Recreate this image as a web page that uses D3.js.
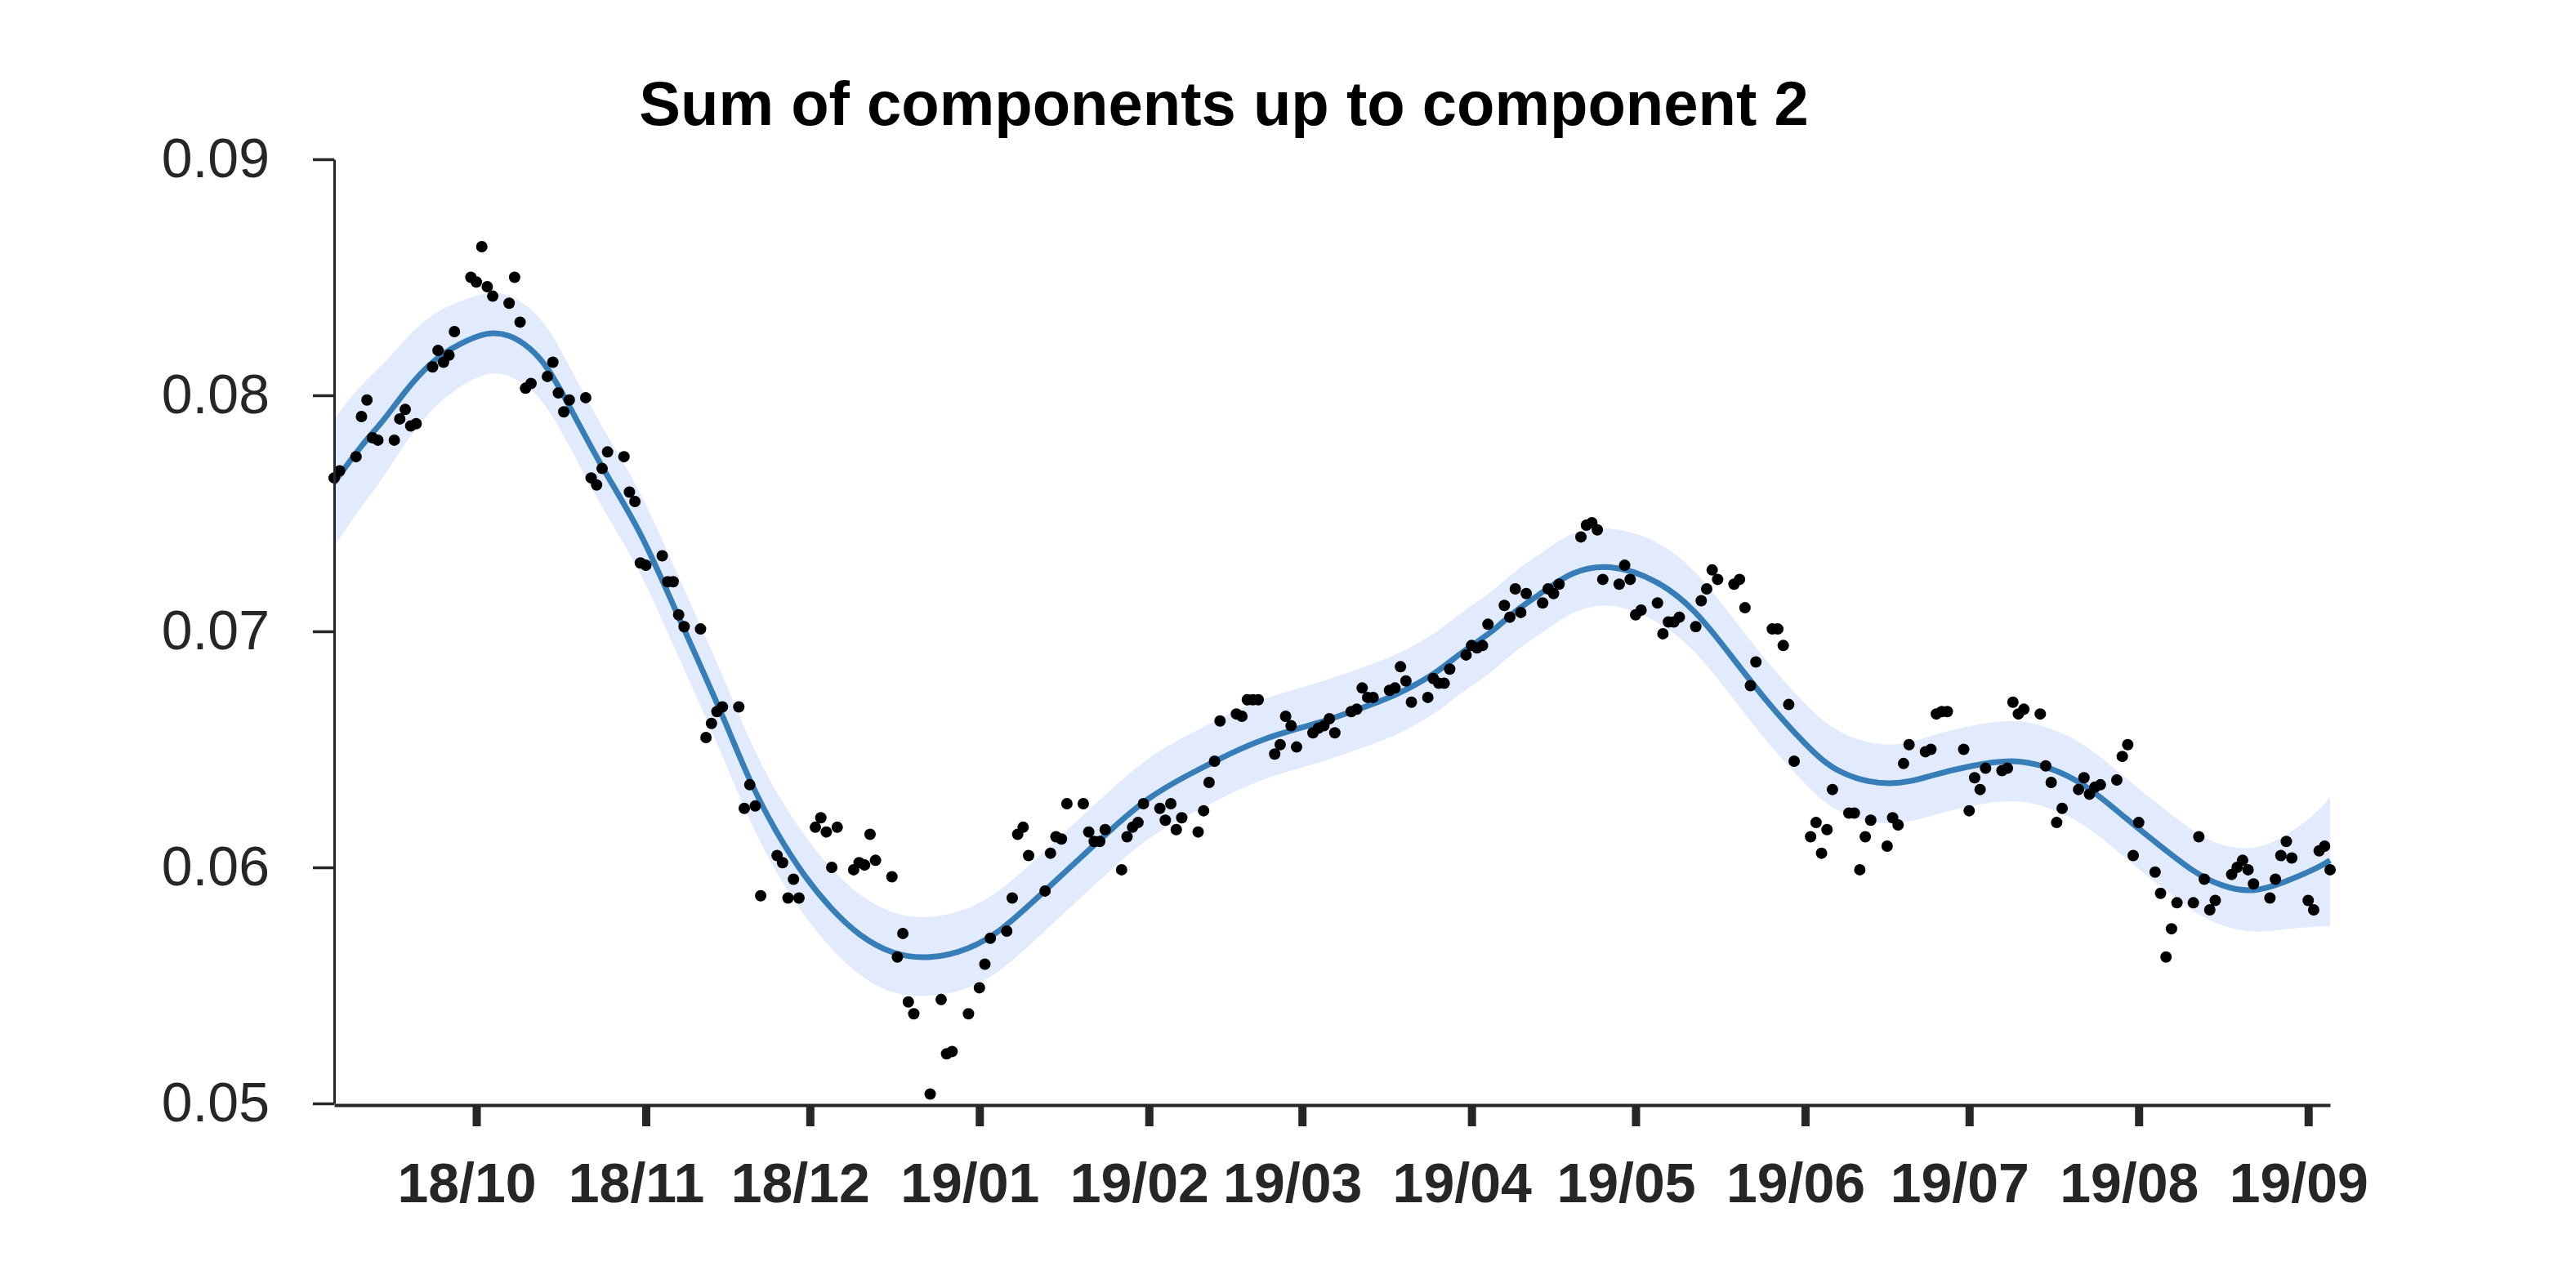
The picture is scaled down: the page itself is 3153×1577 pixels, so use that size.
<!DOCTYPE html>
<html>
<head>
<meta charset="utf-8">
<script src="https://cdn.jsdelivr.net/npm/d3@7"></script>
<style>
  html, body { margin: 0; padding: 0; background: #ffffff; }
  svg { display: block; }
</style>
</head>
<body>
<svg id="chart" width="3153" height="1577"></svg>
<script>
// ---------------- data ----------------
const chartTitle = "Sum of components up to component 2";

const xDomain = ["2018-09-05", "2019-09-05"];
const yTicks = [0.05, 0.06, 0.07, 0.08, 0.09];
const xTickDates = ["2018-10-01","2018-11-01","2018-12-01","2019-01-01","2019-02-01","2019-03-01",
                    "2019-04-01","2019-05-01","2019-06-01","2019-07-01","2019-08-01","2019-09-01"];
const xTickLabels = ["18/10","18/11","18/12","19/01","19/02","19/03",
                     "19/04","19/05","19/06","19/07","19/08","19/09"];

// observed points [date, value]
const observations = [
  ["2018-09-05",0.0765],["2018-09-06",0.0768],["2018-09-09",0.0774],["2018-09-10",0.0791],["2018-09-11",0.0798],
  ["2018-09-12",0.0782],["2018-09-13",0.0781],["2018-09-16",0.0781],["2018-09-17",0.0790],["2018-09-18",0.0794],
  ["2018-09-19",0.0787],["2018-09-20",0.0788],["2018-09-23",0.0812],["2018-09-24",0.0819],["2018-09-25",0.0814],
  ["2018-09-26",0.0817],["2018-09-27",0.0827],["2018-09-30",0.0850],
  ["2018-10-01",0.0848],["2018-10-02",0.0863],["2018-10-03",0.0846],["2018-10-04",0.0842],["2018-10-07",0.0839],
  ["2018-10-08",0.0850],["2018-10-09",0.0831],["2018-10-10",0.0803],["2018-10-11",0.0805],["2018-10-14",0.0808],
  ["2018-10-15",0.0814],["2018-10-16",0.0801],["2018-10-17",0.0793],["2018-10-18",0.0798],["2018-10-21",0.0799],
  ["2018-10-22",0.0765],["2018-10-23",0.0762],["2018-10-24",0.0769],["2018-10-25",0.0776],["2018-10-28",0.0774],
  ["2018-10-29",0.0759],["2018-10-30",0.0755],["2018-10-31",0.0729],
  ["2018-11-01",0.0728],["2018-11-04",0.0732],["2018-11-05",0.0721],["2018-11-06",0.0721],["2018-11-07",0.0707],
  ["2018-11-08",0.0702],["2018-11-11",0.0701],["2018-11-12",0.0655],["2018-11-13",0.0661],["2018-11-14",0.0666],
  ["2018-11-15",0.0668],["2018-11-18",0.0668],["2018-11-19",0.0625],["2018-11-20",0.0635],["2018-11-21",0.0626],
  ["2018-11-22",0.0588],["2018-11-25",0.0605],["2018-11-26",0.0602],["2018-11-27",0.0587],["2018-11-28",0.0595],
  ["2018-11-29",0.0587],
  ["2018-12-02",0.0617],["2018-12-03",0.0621],["2018-12-04",0.0615],["2018-12-05",0.0600],["2018-12-06",0.0617],
  ["2018-12-09",0.0599],["2018-12-10",0.0602],["2018-12-11",0.0601],["2018-12-12",0.0614],["2018-12-13",0.0603],
  ["2018-12-16",0.0596],["2018-12-17",0.0562],["2018-12-18",0.0572],["2018-12-19",0.0543],["2018-12-20",0.0538],
  ["2018-12-23",0.0504],["2018-12-25",0.0544],["2018-12-26",0.0521],["2018-12-27",0.0522],["2018-12-30",0.0538],
  ["2019-01-01",0.0549],["2019-01-02",0.0559],["2019-01-03",0.0570],["2019-01-06",0.0573],["2019-01-07",0.0587],
  ["2019-01-08",0.0614],["2019-01-09",0.0617],["2019-01-10",0.0605],["2019-01-13",0.0590],["2019-01-14",0.0606],
  ["2019-01-15",0.0613],["2019-01-16",0.0612],["2019-01-17",0.0627],["2019-01-20",0.0627],["2019-01-21",0.0615],
  ["2019-01-22",0.0611],["2019-01-23",0.0611],["2019-01-24",0.0616],["2019-01-27",0.0599],["2019-01-28",0.0613],
  ["2019-01-29",0.0617],["2019-01-30",0.0619],["2019-01-31",0.0627],
  ["2019-02-03",0.0625],["2019-02-04",0.0620],["2019-02-05",0.0627],["2019-02-06",0.0616],["2019-02-07",0.0621],
  ["2019-02-10",0.0615],["2019-02-11",0.0624],["2019-02-12",0.0636],["2019-02-13",0.0645],["2019-02-14",0.0662],
  ["2019-02-17",0.0665],["2019-02-18",0.0664],["2019-02-19",0.0671],["2019-02-20",0.0671],["2019-02-21",0.0671],
  ["2019-02-24",0.0648],["2019-02-25",0.0652],["2019-02-26",0.0664],["2019-02-27",0.0660],["2019-02-28",0.0651],
  ["2019-03-03",0.0657],["2019-03-04",0.0659],["2019-03-05",0.0660],["2019-03-06",0.0663],["2019-03-07",0.0657],
  ["2019-03-10",0.0666],["2019-03-11",0.0667],["2019-03-12",0.0676],["2019-03-13",0.0672],["2019-03-14",0.0672],
  ["2019-03-17",0.0675],["2019-03-18",0.0676],["2019-03-19",0.0685],["2019-03-20",0.0679],["2019-03-21",0.0670],
  ["2019-03-24",0.0672],["2019-03-25",0.0680],["2019-03-26",0.0678],["2019-03-27",0.0678],["2019-03-28",0.0684],
  ["2019-03-31",0.0690],
  ["2019-04-01",0.0694],["2019-04-02",0.0693],["2019-04-03",0.0694],["2019-04-04",0.0703],["2019-04-07",0.0711],
  ["2019-04-08",0.0706],["2019-04-09",0.0718],["2019-04-10",0.0708],["2019-04-11",0.0716],["2019-04-14",0.0712],
  ["2019-04-15",0.0718],["2019-04-16",0.0716],["2019-04-17",0.0720],["2019-04-21",0.0740],["2019-04-22",0.0745],
  ["2019-04-23",0.0746],["2019-04-24",0.0743],["2019-04-25",0.0722],["2019-04-28",0.0720],["2019-04-29",0.0728],
  ["2019-04-30",0.0722],
  ["2019-05-01",0.0707],["2019-05-02",0.0709],["2019-05-05",0.0712],["2019-05-06",0.0699],["2019-05-07",0.0704],
  ["2019-05-08",0.0704],["2019-05-09",0.0706],["2019-05-12",0.0702],["2019-05-13",0.0713],["2019-05-14",0.0718],
  ["2019-05-15",0.0726],["2019-05-16",0.0722],["2019-05-19",0.0720],["2019-05-20",0.0722],["2019-05-21",0.0710],
  ["2019-05-22",0.0677],["2019-05-23",0.0687],["2019-05-26",0.0701],["2019-05-27",0.0701],["2019-05-28",0.0694],
  ["2019-05-29",0.0669],["2019-05-30",0.0645],
  ["2019-06-02",0.0613],["2019-06-03",0.0619],["2019-06-04",0.0606],["2019-06-05",0.0616],["2019-06-06",0.0633],
  ["2019-06-09",0.0623],["2019-06-10",0.0623],["2019-06-11",0.0599],["2019-06-12",0.0613],["2019-06-13",0.0620],
  ["2019-06-16",0.0609],["2019-06-17",0.0621],["2019-06-18",0.0618],["2019-06-19",0.0644],["2019-06-20",0.0652],
  ["2019-06-23",0.0649],["2019-06-24",0.0650],["2019-06-25",0.0665],["2019-06-26",0.0666],["2019-06-27",0.0666],
  ["2019-06-30",0.0650],
  ["2019-07-01",0.0624],["2019-07-02",0.0638],["2019-07-03",0.0633],["2019-07-04",0.0642],["2019-07-07",0.0641],
  ["2019-07-08",0.0642],["2019-07-09",0.0670],["2019-07-10",0.0665],["2019-07-11",0.0667],["2019-07-14",0.0665],
  ["2019-07-15",0.0643],["2019-07-16",0.0636],["2019-07-17",0.0619],["2019-07-18",0.0625],["2019-07-21",0.0633],
  ["2019-07-22",0.0638],["2019-07-23",0.0631],["2019-07-24",0.0634],["2019-07-25",0.0635],["2019-07-28",0.0637],
  ["2019-07-29",0.0647],["2019-07-30",0.0652],["2019-07-31",0.0605],
  ["2019-08-01",0.0619],["2019-08-04",0.0598],["2019-08-05",0.0589],["2019-08-06",0.0562],["2019-08-07",0.0574],
  ["2019-08-08",0.0585],["2019-08-11",0.0585],["2019-08-12",0.0613],["2019-08-13",0.0595],["2019-08-14",0.0582],
  ["2019-08-15",0.0586],["2019-08-18",0.0597],["2019-08-19",0.0600],["2019-08-20",0.0603],["2019-08-21",0.0599],
  ["2019-08-22",0.0593],["2019-08-25",0.0587],["2019-08-26",0.0595],["2019-08-27",0.0605],["2019-08-28",0.0611],
  ["2019-08-29",0.0604],
  ["2019-09-01",0.0586],["2019-09-02",0.0582],["2019-09-03",0.0607],["2019-09-04",0.0609],["2019-09-05",0.0599]
];

// fitted curve (sum of components) and its uncertainty band
const curveDates = ["2018-09-05","2018-09-10","2018-09-14","2018-09-18","2018-09-23","2018-09-28","2018-10-03",
  "2018-10-07","2018-10-11","2018-10-14","2018-10-17","2018-10-24","2018-10-31","2018-11-06","2018-11-15",
  "2018-11-20","2018-11-25","2018-11-30","2018-12-05","2018-12-10","2018-12-16","2018-12-23","2018-12-30",
  "2019-01-05","2019-01-12","2019-01-19","2019-01-25","2019-02-01","2019-02-08","2019-02-13","2019-02-22",
  "2019-03-04","2019-03-10","2019-03-15","2019-03-20","2019-03-26","2019-03-30","2019-04-05","2019-04-09",
  "2019-04-15","2019-04-19","2019-04-26","2019-05-05","2019-05-12","2019-05-18","2019-05-25","2019-06-01",
  "2019-06-07","2019-06-17","2019-06-24","2019-07-01","2019-07-09","2019-07-15","2019-07-22","2019-07-30",
  "2019-08-05","2019-08-11","2019-08-16","2019-08-22","2019-08-28","2019-09-03","2019-09-05"];
const curveMean = [0.0763,0.0779,0.0789,0.0802,0.0815,0.0822,0.0827,
  0.0826,0.0820,0.0812,0.0800,0.0769,0.0743,0.0711,0.0665,
  0.0636,0.0614,0.0596,0.0582,0.0571,0.0563,0.0561,0.0565,
  0.0573,0.0588,0.0603,0.0616,0.0630,0.0639,0.0645,0.0655,
  0.0661,0.0666,0.0670,0.0675,0.0683,0.0691,0.0700,0.0709,
  0.0718,0.0725,0.0729,0.0722,0.0709,0.0691,0.0670,0.0652,
  0.0639,0.0634,0.0639,0.0643,0.0646,0.0643,0.0636,0.0620,
  0.0609,0.0598,0.0592,0.0589,0.0594,0.0600,0.0603];
const bandLower = [0.0736,0.0753,0.0765,0.0780,0.0795,0.0804,0.0810,
  0.0809,0.0803,0.0795,0.0783,0.0752,0.0726,0.0694,0.0648,
  0.0619,0.0597,0.0579,0.0565,0.0554,0.0546,0.0545,0.0548,
  0.0556,0.0571,0.0586,0.0599,0.0613,0.0622,0.0628,0.0638,
  0.0644,0.0649,0.0653,0.0658,0.0666,0.0674,0.0683,0.0692,
  0.0701,0.0708,0.0713,0.0705,0.0692,0.0674,0.0653,0.0635,
  0.0622,0.0617,0.0622,0.0626,0.0629,0.0626,0.0619,0.0603,
  0.0592,0.0581,0.0575,0.0572,0.0574,0.0575,0.0575];
const bandUpper = [0.0790,0.0805,0.0813,0.0824,0.0835,0.0840,0.0844,
  0.0843,0.0837,0.0829,0.0817,0.0786,0.0760,0.0728,0.0682,
  0.0653,0.0631,0.0613,0.0599,0.0588,0.0580,0.0578,0.0582,
  0.0590,0.0605,0.0620,0.0633,0.0647,0.0656,0.0662,0.0672,
  0.0678,0.0683,0.0687,0.0692,0.0700,0.0708,0.0717,0.0726,
  0.0735,0.0742,0.0745,0.0739,0.0726,0.0708,0.0687,0.0669,
  0.0656,0.0650,0.0656,0.0660,0.0663,0.0660,0.0653,0.0637,
  0.0626,0.0615,0.0609,0.0607,0.0613,0.0624,0.0630];

// ---------------- drawing ----------------
const W = 3153, H = 1577;
const margin = {left: 409, right: 301, top: 195, bottom: 226};
const parse = d3.timeParse("%Y-%m-%d");
const ink = "#262626";
const font = "'Liberation Sans', Arial, Helvetica, sans-serif";

const svg = d3.select("#chart");

const x = d3.scaleTime()
  .domain(xDomain.map(parse))
  .range([margin.left, W - margin.right]);
const y = d3.scaleLinear()
  .domain([yTicks[0], yTicks[yTicks.length - 1]])
  .range([H - margin.bottom, margin.top]);

const curveType = d3.curveBasis;
const fitted = curveDates.map((d, i) => ({date: parse(d), mean: curveMean[i], lo: bandLower[i], hi: bandUpper[i]}));

// band
svg.append("path")
  .datum(fitted)
  .attr("fill", "#e2ebfd")
  .attr("stroke", "none")
  .attr("d", d3.area().curve(curveType)
    .x(d => x(d.date)).y0(d => y(d.lo)).y1(d => y(d.hi)));

// mean line
svg.append("path")
  .datum(fitted)
  .attr("fill", "none")
  .attr("stroke", "#377eb8")
  .attr("stroke-width", 7)
  .attr("stroke-linecap", "butt")
  .attr("d", d3.line().curve(curveType).x(d => x(d.date)).y(d => y(d.mean)));

// observations
svg.append("g")
  .selectAll("circle")
  .data(observations)
  .join("circle")
  .attr("cx", d => x(parse(d[0])))
  .attr("cy", d => y(d[1]))
  .attr("r", 7)
  .attr("fill", "#000000");

// y axis
const yAxis = svg.append("g")
  .attr("transform", `translate(${margin.left},0)`)
  .call(d3.axisLeft(y).tickValues(yTicks).tickFormat(d3.format(".2f"))
    .tickSize(26).tickSizeOuter(0).tickPadding(53));
yAxis.select(".domain").attr("stroke", ink).attr("stroke-width", 3);
yAxis.selectAll(".tick line").attr("stroke", ink).attr("stroke-width", 3.5);
yAxis.selectAll(".tick text")
  .attr("fill", ink)
  .style("font-family", font)
  .style("font-size", "68px");

// x axis
const xAxis = svg.append("g")
  .attr("transform", `translate(0,${H - margin.bottom + 2})`)
  .call(d3.axisBottom(x).tickValues(xTickDates.map(parse))
    .tickFormat((d, i) => xTickLabels[i])
    .tickSize(26).tickSizeOuter(0).tickPadding(45));
xAxis.select(".domain").attr("stroke", ink).attr("stroke-width", 4);
xAxis.selectAll(".tick line").attr("stroke", ink).attr("stroke-width", 10);
xAxis.selectAll(".tick text")
  .attr("fill", ink)
  .attr("dx", -12)
  .style("font-family", font)
  .style("font-weight", "bold")
  .style("font-size", "68px");

// title
svg.append("text")
  .attr("x", 1498)
  .attr("y", 153)
  .attr("text-anchor", "middle")
  .attr("fill", "#000000")
  .style("font-family", font)
  .style("font-weight", "bold")
  .style("font-size", "76px")
  .text(chartTitle);
</script>
</body>
</html>
